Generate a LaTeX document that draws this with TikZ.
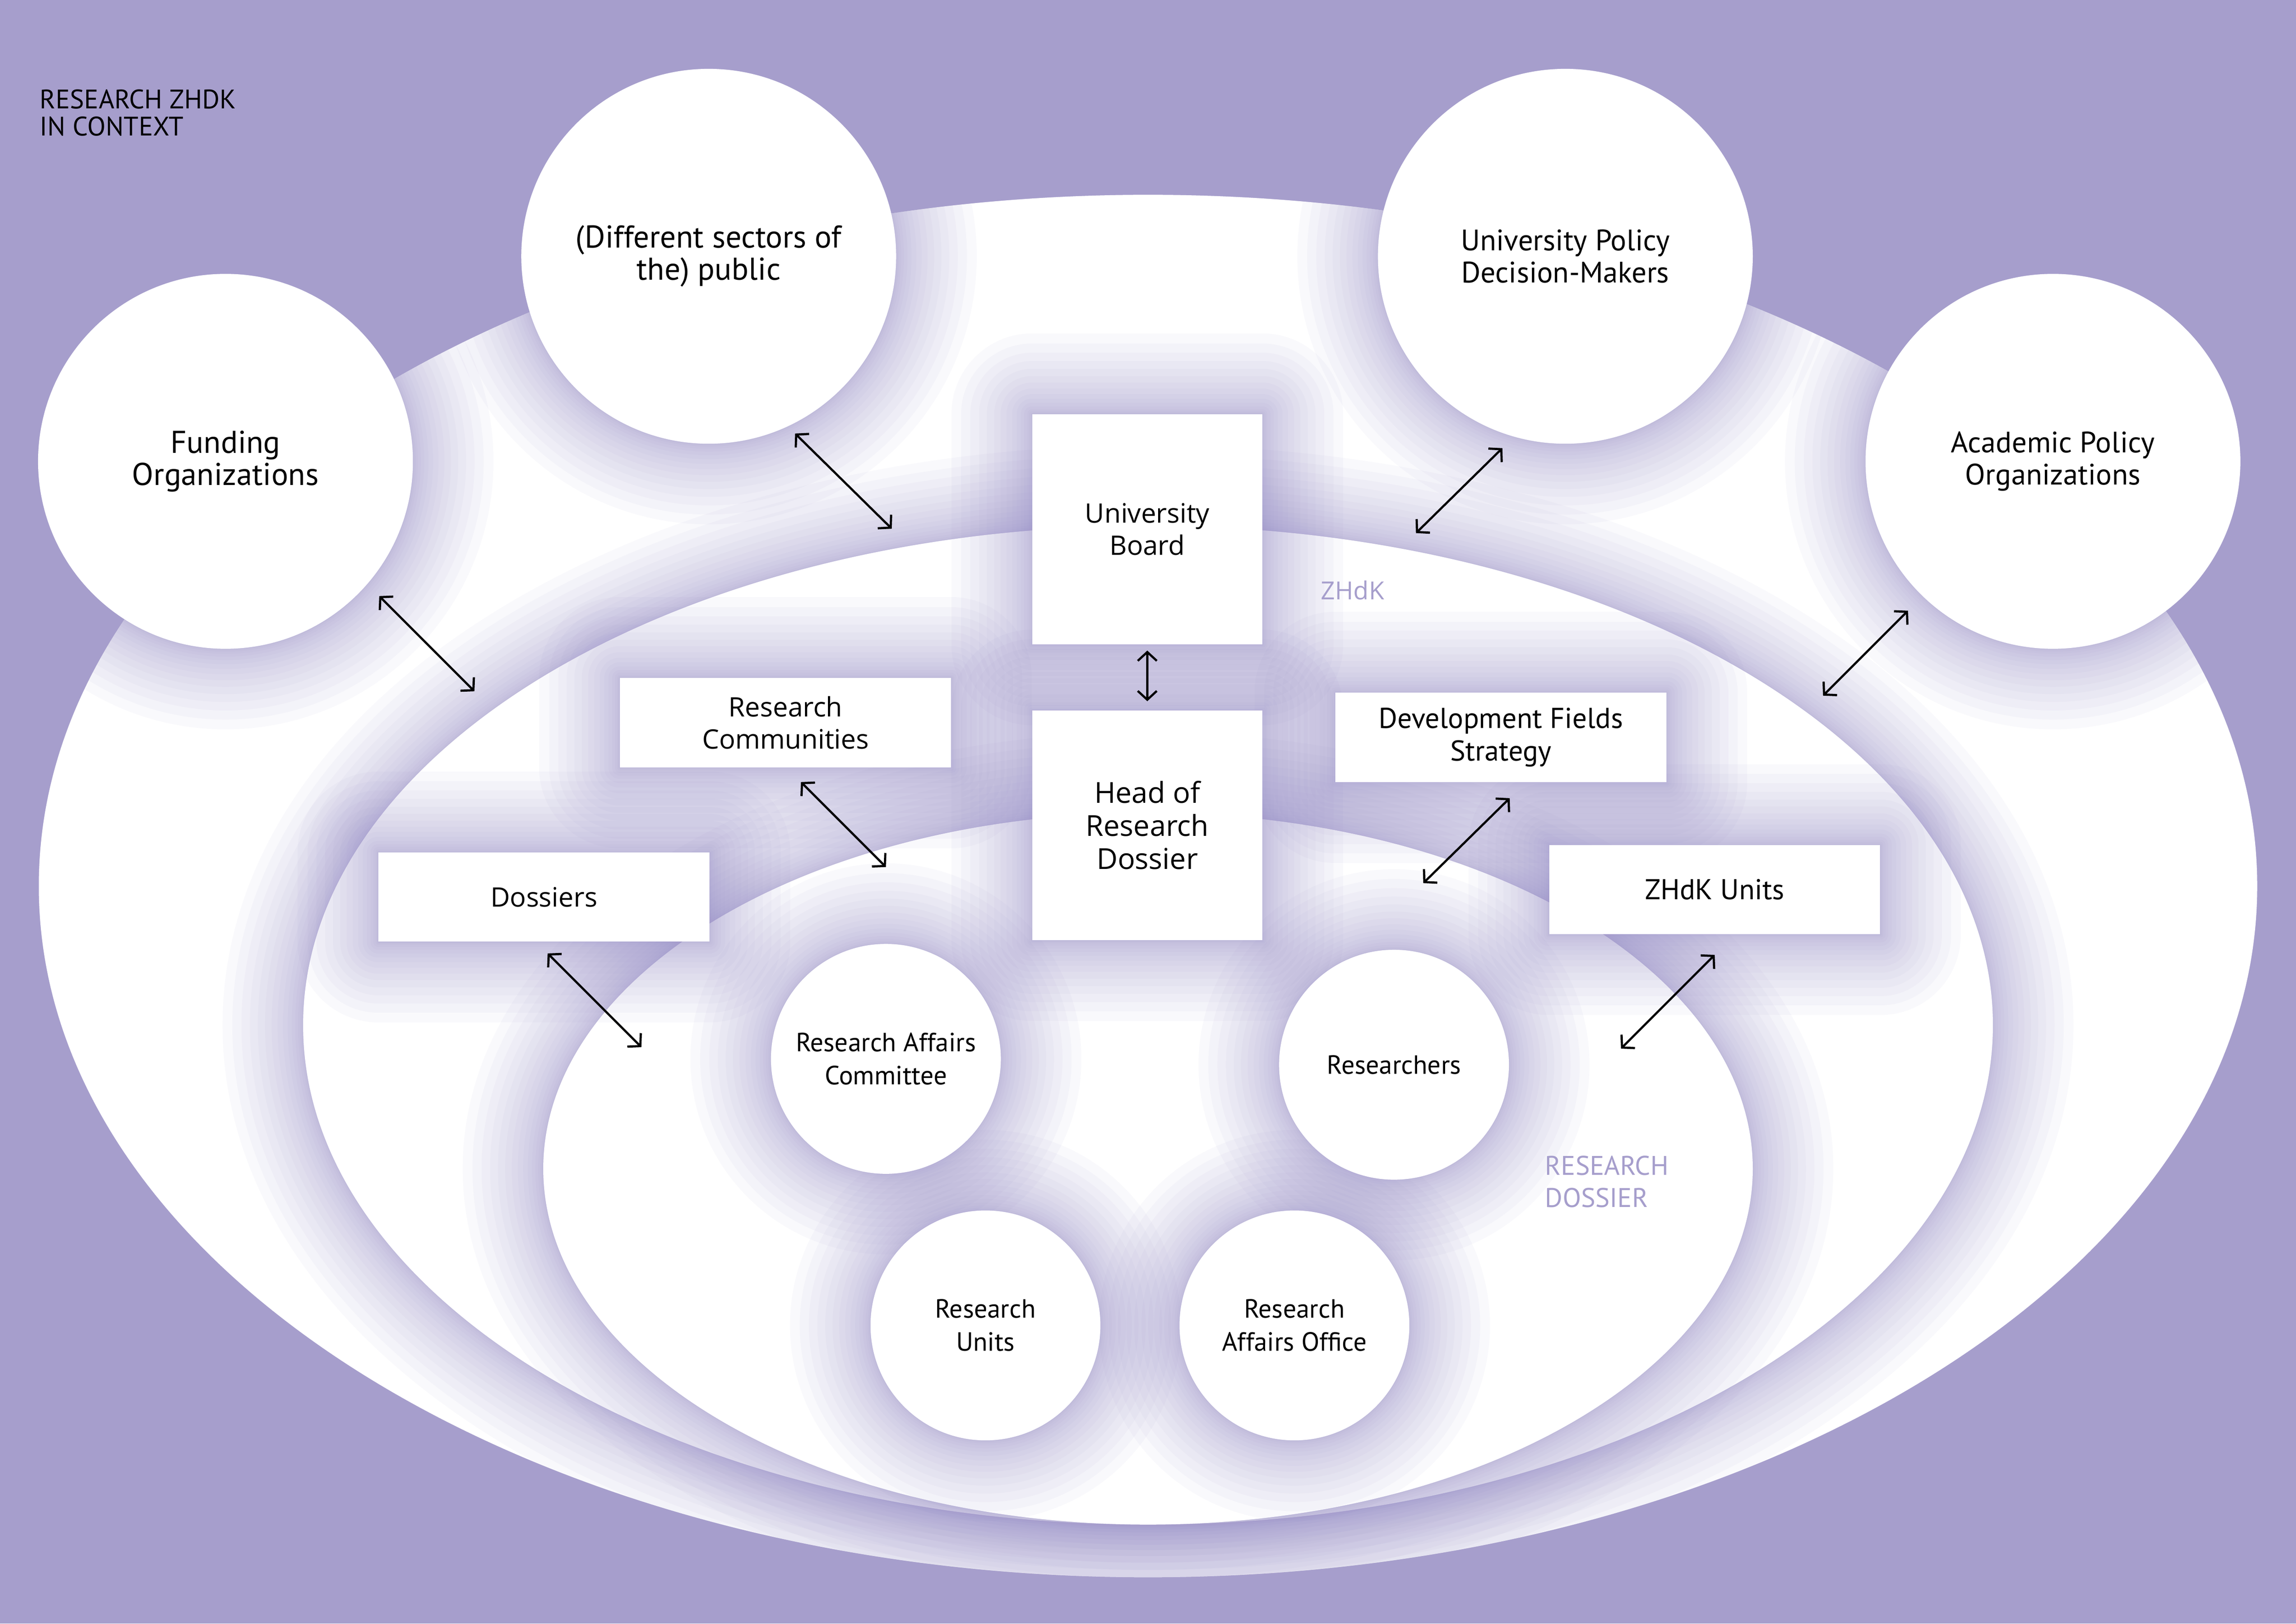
\documentclass[tikz,border=0pt]{standalone}
\usepackage{fontspec}
\setmainfont{PT Sans}
\newfontfamily\segoe{Open Sans}
\usetikzlibrary{arrows.meta,calc}
\pgfdeclarelayer{bgl}
\pgfdeclarelayer{glowA}
\pgfdeclarelayer{ellA}
\pgfdeclarelayer{glowB}
\pgfdeclarelayer{ellB}
\pgfdeclarelayer{glowC}
\pgfsetlayers{bgl,glowA,ellA,glowB,ellB,glowC,main}
\definecolor{bgpurple}{RGB}{166,158,204}
\definecolor{glowc}{RGB}{150,140,200}
\definecolor{labpurple}{RGB}{166,158,204}
\newcommand\glowpath[1]{%
  \foreach \k [evaluate=\k as \w using 110*(\k/16)^2] in {1,...,16}{%
    \draw[glowc, opacity=0.05, line width=\w pt, line join=round] #1;}}
\newcommand\outerclip{\clip (784,605) ellipse [x radius=757.5pt, y radius=472pt];}
\begin{document}
\begin{tikzpicture}[x=1pt,y=-1pt,
  bigc/.style={circle, fill=white, minimum size=256pt, inner sep=0pt, align=center},
  smallc/.style={circle, fill=white, minimum size=157pt, inner sep=0pt, align=center, font=\fontsize{18}{22.5}\selectfont},
  sqbox/.style={rectangle, fill=white, minimum width=157pt, minimum height=157pt, inner sep=0pt, align=center},
  widebox/.style={rectangle, fill=white, minimum width=226pt, minimum height=61pt, inner sep=0pt, align=center},
  segfont/.style={font=\segoe\fontsize{18.3}{22}\selectfont},
  myfont/.style={font=\fontsize{19.6}{22.5}\selectfont},
  wfont/.style={font=\fontsize{21.5}{22}\selectfont},
  nfont/.style={font=\fontsize{20.2}{22}\selectfont},
  arr/.style={{Straight Barb[length=6pt,width=13pt]}-{Straight Barb[length=6pt,width=13pt]}, line width=1.5pt, black},
  lab/.style={anchor=west, inner sep=0pt, align=left}
]
\useasboundingbox (0,0) rectangle (1568,1108.7);

% background and regions
\begin{pgfonlayer}{bgl}
  \fill[bgpurple] (0,0) rectangle (1568,1108.7);
  \fill[white] (784,605) ellipse [x radius=757.5pt, y radius=472pt];
\end{pgfonlayer}
\begin{pgfonlayer}{glowA}
  \begin{scope}\outerclip
    \glowpath{(784,700) ellipse [x radius=577pt, y radius=341pt]}
  \end{scope}
\end{pgfonlayer}
\begin{pgfonlayer}{ellA}
  \fill[white] (784,700) ellipse [x radius=577pt, y radius=341pt];
\end{pgfonlayer}
\begin{pgfonlayer}{glowB}
  \begin{scope}\outerclip
    \glowpath{(784,798) ellipse [x radius=413pt, y radius=243pt]}
  \end{scope}
\end{pgfonlayer}
\begin{pgfonlayer}{ellB}
  \fill[white] (784,798) ellipse [x radius=413pt, y radius=243pt];
\end{pgfonlayer}

% nodes
\node[bigc, wfont] (fund) at (154,315) {Funding\\Organizations};
\node[bigc, wfont] (pub) at (484,175) {(Different sectors of\\the) public};
\node[bigc, nfont] (upol) at (1069,175) {University Policy\\Decision-Makers};
\node[bigc, nfont] (apol) at (1402,315) {Academic Policy\\Organizations};

\node[sqbox, segfont] (board) at (783.5,361.5) {University\\Board};
\node[sqbox, font=\segoe\fontsize{19.7}{22.5}\selectfont] (head) at (783.5,563.5) {Head of\\Research\\Dossier};

\node[widebox, segfont] (rcom) at (536.5,493.5) {Research\\Communities};
\node[widebox, segfont] (doss) at (371.5,612.5) {Dossiers};
\node[widebox, myfont] (dev) at (1025,503.5) {Development Fields\\Strategy};
\node[widebox, myfont] (units) at (1171,607.5) {ZHdK Units};

\node[smallc] (rac) at (605,723) {Research Affairs\\Committee};
\node[smallc] (rs) at (952,727) {Researchers};
\node[smallc] (ru) at (673,905) {Research\\Units};
\node[smallc] (rao) at (884,905) {Research\\Affairs Office};

% labels
\node[lab, font=\fontsize{18.3}{18.5}\selectfont] (title) at (27,77) {RESEARCH ZHDK\\IN CONTEXT};
\node[lab, text=labpurple, font=\segoe\fontsize{17}{18}\selectfont] (zlab) at (902,403) {ZHdK};
\node[lab, text=labpurple, font=\fontsize{18.4}{22}\selectfont] (rdlab) at (1055,807) {RESEARCH\\DOSSIER};

% glows of the nodes
\begin{pgfonlayer}{glowC}
  \begin{scope}\outerclip
    \foreach \n in {fund,pub,upol,apol}{\glowpath{(\n.center) circle [radius=128pt]}}
    \foreach \n in {rac,rs,ru,rao}{\glowpath{(\n.center) circle [radius=78.5pt]}}
    \foreach \n in {board,head,rcom,doss,dev,units}{\glowpath{(\n.north west) rectangle (\n.south east)}}
  \end{scope}
\end{pgfonlayer}

% arrow end points
\coordinate (a1) at (259,407); \coordinate (b1) at (324,472);
\coordinate (a2) at (543,296); \coordinate (b2) at (609,361);
\coordinate (a3) at (1026,306); \coordinate (b3) at (967,364);
\coordinate (a4) at (1303,417); \coordinate (b4) at (1245,475);
\coordinate (a6) at (547,534); \coordinate (b6) at (605,592);
\coordinate (a7) at (374,651); \coordinate (b7) at (438,715);
\coordinate (a8) at (1031,545); \coordinate (b8) at (972,603);
\coordinate (a9) at (1171,652); \coordinate (b9) at (1107,716);

\draw[arr] (a1) -- (b1);
\draw[arr] (a2) -- (b2);
\draw[arr] (a3) -- (b3);
\draw[arr] (a4) -- (b4);
\draw[arr, shorten <=4pt, shorten >=6pt] (board) -- (head);
\draw[arr] (a6) -- (b6);
\draw[arr] (a7) -- (b7);
\draw[arr] (a8) -- (b8);
\draw[arr] (a9) -- (b9);
\end{tikzpicture}
\end{document}
